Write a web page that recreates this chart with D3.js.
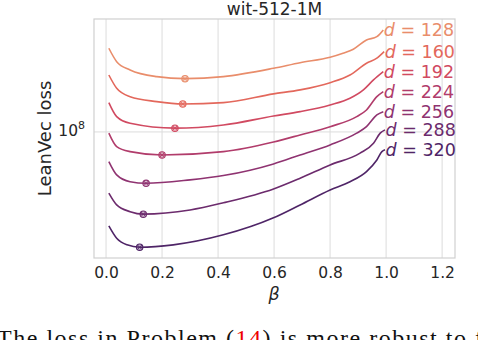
<!DOCTYPE html>
<html><head><meta charset="utf-8">
<script src="https://cdn.jsdelivr.net/npm/d3@7"></script>
<style>
body{margin:0;background:#fff;}
svg{display:block;font-family:"DejaVu Sans",sans-serif;}
</style></head>
<body><svg id="c" width="478" height="340"></svg>
<script>
// ---- data ----
const dims = [128, 160, 192, 224, 256, 288, 320];
const colors = ["#e98d6b", "#e3685c", "#d14a61", "#b13c6b", "#8f3371", "#6c2b6d", "#4f2567"];
const beta128 = [0.01,0.038,0.086,0.181,0.282,0.419,0.598,0.693,0.8,0.846,0.883,0.93,0.967,0.99];
const loss128 = [16.19,14.99,14.29,13.75,13.59,13.75,14.43,14.90,15.37,15.73,16.10,16.98,17.31,17.99];
const beta160 = [0.01,0.038,0.086,0.181,0.274,0.419,0.598,0.693,0.8,0.871,0.93,0.967,0.993];
const loss160 = [13.88,12.86,12.25,11.91,11.75,11.84,12.45,12.74,13.28,13.88,14.85,15.29,15.88];
const beta192 = [0.01,0.038,0.086,0.246,0.419,0.598,0.693,0.8,0.871,0.919,0.955,0.99];
const loss192 = [11.84,10.92,10.51,10.22,10.41,10.96,11.24,11.68,12.14,12.74,13.49,14.15];
const beta224 = [0.01,0.038,0.086,0.2,0.419,0.598,0.693,0.8,0.895,0.93,0.967,0.99];
const loss224 = [9.93,9.19,8.93,8.76,8.93,9.44,9.83,10.31,10.92,11.35,12.25,12.61];
const beta256 = [0.01,0.038,0.086,0.143,0.3,0.419,0.598,0.693,0.8,0.895,0.93,0.967,0.99];
const loss256 = [8.43,7.81,7.51,7.44,7.59,7.78,8.32,8.76,9.28,9.93,10.31,11.03,11.24];
const beta288 = [0.01,0.038,0.086,0.133,0.3,0.419,0.598,0.693,0.8,0.907,0.955,0.979,0.996];
const loss288 = [7.03,6.57,6.32,6.23,6.38,6.65,7.20,7.66,8.27,8.85,9.37,9.93,10.12];
const beta320 = [0.01,0.038,0.075,0.12,0.24,0.419,0.598,0.693,0.8,0.871,0.93,0.967,0.985,0.996];
const loss320 = [5.82,5.42,5.22,5.15,5.22,5.53,6.10,6.57,7.16,7.51,7.96,8.51,8.93,9.02];
const lossUnit = 1e7;
const xTicks = [0.0, 0.2, 0.4, 0.6, 0.8, 1.0, 1.2];
const yTicks = [1e8];
const xDomain = [-0.043, 1.246];
const yDomain = [4.84e7, 1.916e8];
const title = "wit-512-1M";
const xLabel = "β";
const yLabel = "LeanVec loss";

const betas = [beta128, beta160, beta192, beta224, beta256, beta288, beta320];
const losses = [loss128, loss160, loss192, loss224, loss256, loss288, loss320];
const series = dims.map((d, i) => ({d, color: colors[i],
  pts: betas[i].map((b, j) => ({b, v: losses[i][j] * lossUnit}))}));

// ---- layout ----
const svg = d3.select("#c");
const L = 94, R = 455, T = 19, B = 258;
const x = d3.scaleLinear().domain(xDomain).range([L, R]);
const y = d3.scaleLog().domain(yDomain).range([B, T]);

svg.append("rect").attr("width", 478).attr("height", 340).attr("fill", "#fff");

// grid
const grid = svg.append("g").attr("stroke", "#dcdcdc").attr("stroke-width", 1);
xTicks.forEach(t => grid.append("line").attr("x1", x(t)).attr("x2", x(t)).attr("y1", T).attr("y2", B));
yTicks.forEach(t => grid.append("line").attr("x1", L).attr("x2", R).attr("y1", y(t)).attr("y2", y(t)));
svg.append("rect").attr("x", L).attr("y", T).attr("width", R - L).attr("height", B - T)
  .attr("fill", "none").attr("stroke", "#d0d0d0").attr("stroke-width", 1.2);

// axes labels via d3 axes (no domain / tick lines)
const xAxis = svg.append("g").attr("transform", `translate(0,${B})`)
  .call(d3.axisBottom(x).tickValues(xTicks).tickFormat(d3.format(".1f")).tickSize(0).tickPadding(9));
xAxis.select(".domain").remove();
xAxis.selectAll("text").attr("font-size", 15.5).attr("font-family", "DejaVu Sans").attr("fill", "#262626");

const yAxis = svg.append("g").attr("transform", `translate(${L},0)`)
  .call(d3.axisLeft(y).tickValues(yTicks).tickFormat(() => "").tickSize(0));
yAxis.select(".domain").remove();
yAxis.selectAll(".tick").each(function(t) {
  const e = Math.round(Math.log10(t));
  const txt = d3.select(this).append("text").attr("x", -9).attr("dy", "0.36em")
    .attr("text-anchor", "end").attr("fill", "#262626").attr("font-family", "DejaVu Sans");
  txt.append("tspan").attr("font-size", 15.5).text("10");
  txt.append("tspan").attr("font-size", 11).attr("dy", "-0.65em").text(String(e));
});

// lines
const line = d3.line().x(p => x(p.b)).y(p => y(p.v)).curve(d3.curveMonotoneX);
series.forEach(s => {
  svg.append("path").attr("d", line(s.pts)).attr("fill", "none")
    .attr("stroke", s.color).attr("stroke-width", 1.6);
  const m = d3.least(s.pts, p => p.v);
  const cx = x(m.b), cy = y(m.v), r = 3.2, k = r * 0.7;
  svg.append("circle").attr("cx", cx).attr("cy", cy).attr("r", r)
    .attr("fill", s.color).attr("fill-opacity", 0.35).attr("stroke", s.color).attr("stroke-width", 1.1);
  svg.append("path").attr("d", `M${cx-k},${cy-k}L${cx+k},${cy+k}M${cx-k},${cy+k}L${cx+k},${cy-k}`)
    .attr("stroke", s.color).attr("stroke-width", 0.9);
  const last = s.pts[s.pts.length - 1];
  const lab = svg.append("text").attr("x", x(last.b) + 0.5).attr("y", y(last.v)).attr("dy", "0.36em")
    .attr("font-size", 17.5).attr("fill", s.color).attr("font-family", "DejaVu Sans");
  lab.append("tspan").attr("font-style", "italic").text("d");
  lab.append("tspan").text(" = " + s.d);
});

// title & labels
svg.append("text").attr("x", (L + R) / 2).attr("y", 15).attr("text-anchor", "middle")
  .attr("font-size", 17).attr("fill", "#262626").text(title);
svg.append("text").attr("x", 274).attr("y", 300).attr("text-anchor", "middle")
  .attr("font-size", 17.5).attr("font-style", "italic").attr("fill", "#262626").text(xLabel);
svg.append("text").attr("transform", `translate(51,${(T + B) / 2}) rotate(-90)`)
  .attr("text-anchor", "middle").attr("font-size", 18).attr("fill", "#262626").text(yLabel);

// clipped caption line from the page below the figure
const cap = svg.append("text").attr("x", -3).attr("y", 346).attr("font-size", 24)
  .attr("font-family", "Liberation Serif").attr("fill", "#111")
  .attr("textLength", 486).attr("lengthAdjust", "spacing");
cap.append("tspan").text("The loss in Problem (");
cap.append("tspan").attr("fill", "#e00").text("14");
cap.append("tspan").text(") is more robust to f");
</script></body></html>
